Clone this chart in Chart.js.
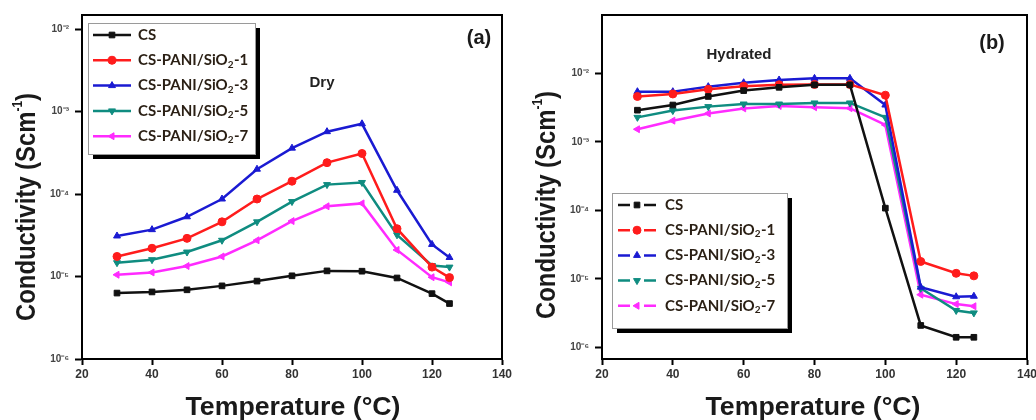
<!DOCTYPE html>
<html>
<head>
<meta charset="utf-8">
<script src="https://cdn.jsdelivr.net/npm/chart.js@4.4.1/dist/chart.umd.min.js"></script>
<style>
  html, body { margin: 0; padding: 0; background: #fff; width: 1036px; height: 420px; overflow: hidden; position: relative; }
  canvas { position: absolute; top: 0; }
  #chartA { left: 0; }
  #chartB { left: 518px; }
</style>
</head>
<body>
<canvas id="chartA" width="518" height="420"></canvas>
<canvas id="chartB" width="540" height="420"></canvas>
<script>
// Data ---------------------------------------------------------------------
const temps = [30, 40, 50, 60, 70, 80, 90, 100, 110, 120, 125];
const seriesNames = ['CS', 'CS-PANI/SiO₂-1', 'CS-PANI/SiO₂-3', 'CS-PANI/SiO₂-5', 'CS-PANI/SiO₂-7'];
const yTickValues = [1e-6, 1e-5, 1e-4, 1e-3, 1e-2];
const xTickValues = [20, 40, 60, 80, 100, 120, 140];

// (a) dry membranes
const dryCS  = [6.3e-6, 6.5e-6, 6.9e-6, 7.7e-6, 8.8e-6, 1.02e-5, 1.17e-5, 1.16e-5, 9.6e-6, 6.2e-6, 4.7e-6];
const dryPS1 = [1.75e-5, 2.2e-5, 2.9e-5, 4.6e-5, 8.7e-5, 1.43e-4, 2.4e-4, 3.1e-4, 3.8e-5, 1.3e-5, 9.7e-6];
const dryPS3 = [3.1e-5, 3.7e-5, 5.3e-5, 8.7e-5, 2.0e-4, 3.6e-4, 5.7e-4, 7.1e-4, 1.11e-4, 2.45e-5, 1.7e-5];
const dryPS5 = [1.47e-5, 1.6e-5, 1.98e-5, 2.75e-5, 4.6e-5, 8.1e-5, 1.3e-4, 1.38e-4, 3.2e-5, 1.36e-5, 1.3e-5];
const dryPS7 = [1.05e-5, 1.12e-5, 1.34e-5, 1.75e-5, 2.75e-5, 4.7e-5, 7.1e-5, 7.7e-5, 2.1e-5, 9.8e-6, 8.5e-6];

// (b) hydrated membranes
const wetCS  = [2.9e-3, 3.45e-3, 4.6e-3, 5.6e-3, 6.25e-3, 6.8e-3, 6.8e-3, 1.08e-4, 2.1e-6, 1.41e-6, 1.41e-6];
const wetPS1 = [4.6e-3, 5.0e-3, 5.85e-3, 6.5e-3, 6.8e-3, 6.9e-3, 6.9e-3, 4.8e-3, 1.8e-5, 1.21e-5, 1.11e-5];
const wetPS3 = [5.4e-3, 5.4e-3, 6.4e-3, 7.3e-3, 8.0e-3, 8.45e-3, 8.45e-3, 3.45e-3, 7.6e-6, 5.5e-6, 5.6e-6];
const wetPS5 = [2.28e-3, 2.86e-3, 3.27e-3, 3.57e-3, 3.57e-3, 3.7e-3, 3.7e-3, 2.28e-3, 7.3e-6, 3.47e-6, 3.2e-6];
const wetPS7 = [1.53e-3, 2.04e-3, 2.6e-3, 3.08e-3, 3.34e-3, 3.2e-3, 3.1e-3, 1.77e-3, 5.9e-6, 4.3e-6, 4.0e-6];

// Styles -------------------------------------------------------------------
const seriesColors = ['#111111', '#ff1c1c', '#1a1ad2', '#0f8c80', '#ff2bff'];
const seriesMarkers = ['rect', 'circle', 'triangle', 'triangle', 'triangle'];
const markerTurns = [0, 0, 0, 180, 270];
const FONT = '"Liberation Sans", Arial, sans-serif';
const LEGEND_FONT = 'Lato, "Open Sans", sans-serif';

const SUP = { '-': '⁻', '0': '⁰', '1': '¹', '2': '²', '3': '³', '4': '⁴', '5': '⁵', '6': '⁶' };
const powLabel = v => '10' + String(Math.round(Math.log10(v))).split('').map(c => SUP[c]).join('');

// text helpers
function drawFitted(ctx, text, cx, cy, font, targetW) {
  ctx.save();
  ctx.font = font;
  const w = ctx.measureText(text).width;
  ctx.translate(cx, cy);
  ctx.scale(targetW / w, 1);
  ctx.textAlign = 'center';
  ctx.textBaseline = 'middle';
  ctx.fillText(text, 0, 0);
  ctx.restore();
}

function drawYTitle(ctx, cx, cy, targetLen) {
  const big = 'bold 28px ' + FONT, small = 'bold 14px ' + FONT;
  const main = 'Conductivity (Scm', sup = '-1', end = ')';
  ctx.save();
  ctx.fillStyle = '#1a1a1a';
  ctx.translate(cx, cy);
  ctx.rotate(-Math.PI / 2);
  ctx.font = big;
  const w1 = ctx.measureText(main).width, w3 = ctx.measureText(end).width;
  ctx.font = small;
  const w2 = ctx.measureText(sup).width;
  const total = w1 + w2 + w3;
  ctx.scale(targetLen / total, 1);
  ctx.textBaseline = 'middle';
  ctx.textAlign = 'left';
  let x = -total / 2;
  ctx.font = big; ctx.fillText(main, x, 0); x += w1;
  ctx.font = small; ctx.fillText(sup, x, -9); x += w2;
  ctx.font = big; ctx.fillText(end, x, 0);
  ctx.restore();
}

function drawLegend(ctx, lg, dashed) {
  // shadow then box
  ctx.save();
  ctx.fillStyle = '#000';
  ctx.fillRect(lg.x + 5, lg.y + 5, lg.w, lg.h);
  ctx.fillStyle = '#fff';
  ctx.fillRect(lg.x, lg.y, lg.w, lg.h);
  ctx.strokeStyle = '#9a9a9a';
  ctx.lineWidth = 1;
  ctx.strokeRect(lg.x + 0.5, lg.y + 0.5, lg.w, lg.h);
  seriesNames.forEach((name, i) => {
    const y = lg.rowY + i * lg.gap;
    const mx = (lg.lineL + lg.lineR) / 2;
    ctx.strokeStyle = seriesColors[i];
    ctx.fillStyle = seriesColors[i];
    ctx.lineWidth = 2.5;
    ctx.beginPath();
    if (dashed) {
      ctx.moveTo(lg.lineL, y); ctx.lineTo(mx - 7, y);
      ctx.moveTo(mx + 7, y); ctx.lineTo(lg.lineR, y);
    } else {
      ctx.moveTo(lg.lineL, y); ctx.lineTo(lg.lineR, y);
    }
    ctx.stroke();
    ctx.lineWidth = 1;
    Chart.helpers.drawPoint(ctx, { pointStyle: seriesMarkers[i], rotation: markerTurns[i], radius: 4, borderWidth: 1 }, mx, y);
    // label with subscript 2
    const parts = name.split('₂');
    ctx.fillStyle = '#2a1f14';
    ctx.textBaseline = 'middle';
    ctx.textAlign = 'left';
    let x = lg.textX;
    ctx.font = 'bold 15px ' + LEGEND_FONT;
    ctx.fillText(parts[0], x, y);
    x += ctx.measureText(parts[0]).width;
    if (parts.length > 1) {
      ctx.font = 'bold 10px ' + LEGEND_FONT;
      ctx.fillText('2', x, y + 4);
      x += ctx.measureText('2').width + 0.5;
      ctx.font = 'bold 15px ' + LEGEND_FONT;
      ctx.fillText(parts[1], x, y);
    }
  });
  ctx.restore();
}

function panelDecor(cfg) {
  return {
    id: 'panelDecor',
    afterDraw(chart) {
      const ctx = chart.ctx, ca = chart.chartArea;
      ctx.save();
      ctx.strokeStyle = '#000';
      ctx.lineWidth = 2;
      ctx.strokeRect(ca.left, ca.top, ca.right - ca.left, ca.bottom - ca.top);
      ctx.fillStyle = '#1a1a1a';
      drawYTitle(ctx, cfg.yTitle.x, cfg.yTitle.y, 228);
      drawFitted(ctx, 'Temperature (°C)', cfg.xTitle.x, cfg.xTitle.y, 'bold 26px ' + FONT, 215);
      ctx.textAlign = 'center';
      ctx.textBaseline = 'middle';
      ctx.font = 'bold 20px ' + FONT;
      ctx.fillText(cfg.tag.text, cfg.tag.x, cfg.tag.y);
      ctx.font = 'bold 15px ' + FONT;
      ctx.fillStyle = '#222';
      ctx.fillText(cfg.note.text, cfg.note.x, cfg.note.y);
      ctx.restore();
      drawLegend(ctx, cfg.legend, cfg.dashedLegend);
    }
  };
}

function makeChart(id, cfg) {
  const datasets = cfg.series.map((vals, i) => ({
    label: seriesNames[i],
    data: temps.map((t, k) => ({ x: t, y: vals[k] })),
    borderColor: seriesColors[i],
    backgroundColor: seriesColors[i],
    borderWidth: 2.5,
    pointStyle: seriesMarkers[i],
    pointRotation: markerTurns[i],
    pointRadius: 4,
    pointBorderWidth: 1,
    tension: 0
  }));
  return new Chart(document.getElementById(id), {
    type: 'line',
    data: { datasets },
    options: {
      responsive: false,
      animation: false,
      layout: { padding: cfg.padding },
      plugins: { legend: { display: false }, tooltip: { enabled: false } },
      scales: {
        x: {
          type: 'linear', min: 20, max: 140,
          afterBuildTicks: s => { s.ticks = xTickValues.map(v => ({ value: v })); },
          afterFit: s => { s.height = 61; },
          ticks: { color: '#333', font: { family: FONT, size: 12, weight: 'bold' }, padding: 2 },
          grid: { drawOnChartArea: false, tickLength: 6, tickWidth: 2, color: '#000' },
          border: { color: '#000', width: 2 }
        },
        y: {
          type: 'logarithmic', min: cfg.yMin, max: cfg.yMax,
          afterBuildTicks: s => { s.ticks = yTickValues.map(v => ({ value: v })); },
          afterFit: s => { s.width = cfg.yWidth; },
          ticks: { callback: v => powLabel(v), color: '#444', font: { family: FONT, size: 10, weight: 'bold' }, padding: 6 },
          grid: { drawOnChartArea: false, tickLength: 7, tickWidth: 2, color: '#000' },
          border: { color: '#000', width: 2 }
        }
      }
    },
    plugins: [panelDecor(cfg)]
  });
}

makeChart('chartA', {
  series: [dryCS, dryPS1, dryPS3, dryPS5, dryPS7],
  yMin: 1e-6, yMax: 0.0148, yWidth: 82,
  padding: { left: 0, top: 15, right: 16, bottom: 0 },
  yTitle: { x: 27, y: 207 },
  xTitle: { x: 293, y: 408 },
  tag: { text: '(a)', x: 479, y: 38 },
  note: { text: 'Dry', x: 322, y: 83 },
  legend: { x: 88, y: 23, w: 167, h: 131, rowY: 35, gap: 25.3, lineL: 93, lineR: 131, textX: 138 },
  dashedLegend: false
});

makeChart('chartB', {
  series: [wetCS, wetPS1, wetPS3, wetPS5, wetPS7],
  yMin: 6.8e-7, yMax: 0.071, yWidth: 84,
  padding: { left: 0, top: 15, right: 31, bottom: 0 },
  yTitle: { x: 29, y: 205 },
  xTitle: { x: 295, y: 408 },
  tag: { text: '(b)', x: 474, y: 43 },
  note: { text: 'Hydrated', x: 221, y: 55 },
  legend: { x: 94, y: 193, w: 175, h: 135, rowY: 205, gap: 25.2, lineL: 100, lineR: 138, textX: 147 },
  dashedLegend: true
});
</script>
</body>
</html>
